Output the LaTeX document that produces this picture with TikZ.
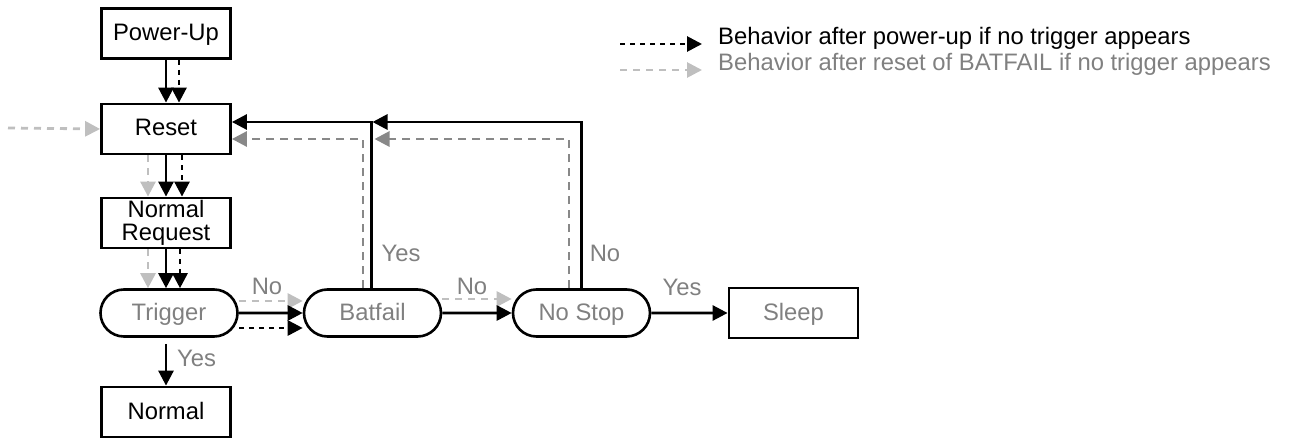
\documentclass[tikz,border=0pt]{standalone}
\usepackage{fontspec}
\setmainfont{Liberation Sans}
\usetikzlibrary{positioning,arrows.meta,shapes.misc}
\definecolor{lightGray}{RGB}{191,191,191}
\definecolor{midGray}{RGB}{136,136,136}
\definecolor{textGray}{RGB}{128,128,128}
\newcommand{\flowFont}{\fontsize{23.8}{22.5}\selectfont}
\tikzstyle{twoLineBox} = [draw, line width=2.8pt, minimum width=129pt, minimum height=50pt, inner sep=0pt, font=\flowFont, align=center]
\tikzstyle{stateBox} = [twoLineBox, text height=17pt, text depth=3pt]
\tikzstyle{testBox} = [rounded rectangle, draw, line width=2.6pt, minimum width=137pt, minimum height=47pt, inner sep=0pt, text=textGray, font=\flowFont, text height=17pt, text depth=3pt]
\tikzstyle{flowLine} = [line width=2.8pt, -{Triangle[length=15pt,width=15pt]}]
\tikzstyle{powerLine} = [flowLine, dash pattern=on 5pt off 5pt]
\tikzstyle{resetLine} = [flowLine, color=lightGray, dash pattern=on 7pt off 6pt]
\tikzstyle{loopLine} = [flowLine, color=midGray, dash pattern=on 8pt off 6pt]
\tikzstyle{branchText} = [text=textGray, font=\flowFont, inner sep=0pt]
\tikzstyle{keyText} = [anchor=west, font=\flowFont, inner sep=0pt]

\begin{document}
\begin{tikzpicture}[x=1pt, y=-1pt]
  \useasboundingbox (0,0) rectangle (1291,441);
  % states
  \node [stateBox] (powerUp) at (166,33.5) {Power-Up};
  \node [stateBox] (reset) at (166,129) {Reset};
  \node [twoLineBox] (request) at (166,223) {Normal\\Request};
  \node [testBox] (trigger) at (169,313) {Trigger};
  \node [stateBox] (normal) at (166,412) {Normal};
  \node [testBox] (batfail) at (372.5,313) {Batfail};
  \node [testBox] (noStop) at (581.5,313) {No Stop};
  \node [stateBox, text=textGray] (sleep) at (793.5,313) {Sleep};

  % down the left column
  \draw [flowLine] (powerUp) -- (reset);
  \draw [powerLine] ([xshift=13pt]powerUp.south) -- ([xshift=13pt]reset.north);
  \draw [resetLine] ([xshift=-18pt]reset.south) -- ([xshift=-18pt]request.north);
  \draw [flowLine] (reset) -- (request);
  \draw [powerLine] ([xshift=16pt]reset.south) -- ([xshift=16pt]request.north);
  \draw [resetLine] ([xshift=-18pt]request.south) -- ([xshift=-18pt]request.south |- trigger.north);
  \draw [flowLine] (request.south) -- (request.south |- trigger.north);
  \draw [powerLine] ([xshift=14pt]request.south) -- ([xshift=14pt]request.south |- trigger.north);
  \draw [flowLine] ([yshift=-6pt]trigger.south -| normal.north) -- (normal.north);

  % along the tests
  \draw [resetLine] ([yshift=12pt]trigger.east) -- ([yshift=12pt]batfail.west);
  \draw [flowLine] (trigger) -- (batfail);
  \draw [powerLine] ([yshift=-15pt]trigger.east) -- ([yshift=-15pt]batfail.west);
  \draw [resetLine] ([yshift=14pt]batfail.east) -- ([yshift=14pt]noStop.west);
  \draw [flowLine] (batfail) -- (noStop);
  \draw [flowLine] (noStop) -- (sleep);

  % loops back to reset
  \draw [flowLine] ([xshift=-1pt]batfail.north) |- ([yshift=7pt]reset.east);
  \draw [loopLine] ([xshift=-9.5pt]batfail.north) |- ([yshift=-10pt]reset.east);
  \draw [flowLine] (noStop.north) |- ([yshift=7pt]reset.east -| batfail.north);
  \draw [loopLine] ([xshift=-12.5pt]noStop.north) |- ([yshift=-10pt,xshift=2pt]reset.east -| batfail.north);
  \coordinate (resetIn) at (8,128);
  \draw [resetLine] (resetIn) -- (reset.west);

  % branch labels
  \node [branchText] (trigYes) at (196.5,358) {Yes};
  \node [branchText] (trigNo) at (267,286) {No};
  \node [branchText] (batYes) at (401,253) {Yes};
  \node [branchText] (batNo) at (472,286) {No};
  \node [branchText] (stopNo) at (605,253) {No};
  \node [branchText] (stopYes) at (682,287) {Yes};

  % key
  \coordinate (keyPowerA) at (620,44);
  \coordinate (keyPowerB) at (702,44);
  \draw [powerLine] (keyPowerA) -- (keyPowerB);
  \node [keyText] (keyPower) at (718,38) {Behavior after power-up if no trigger appears};
  \coordinate (keyResetA) at (620,70);
  \coordinate (keyResetB) at (702,70);
  \draw [resetLine] (keyResetA) -- (keyResetB);
  \node [keyText, text=textGray] (keyReset) at (718,64) {Behavior after reset of BATFAIL if no trigger appears};
\end{tikzpicture}
\end{document}
